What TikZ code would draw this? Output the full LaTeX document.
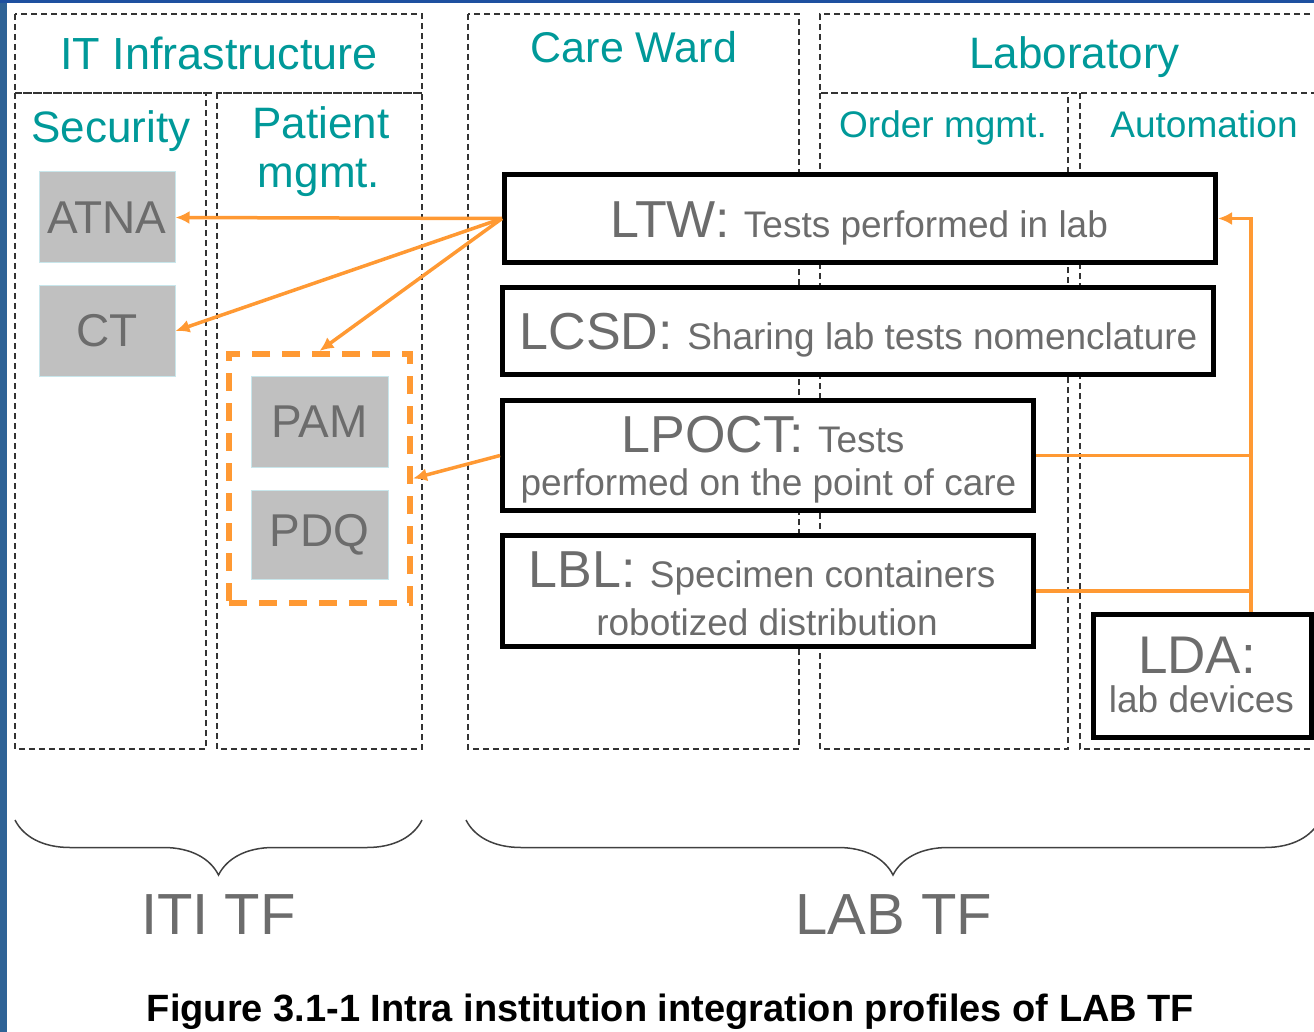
\documentclass[tikz,border=0pt]{standalone}
\usepackage{fontspec}
\setmainfont{Liberation Sans}
\usetikzlibrary{arrows.meta,decorations.pathreplacing}
\definecolor{hdrteal}{RGB}{0,153,153}
\definecolor{txtgray}{RGB}{108,108,108}
\definecolor{boxgray}{RGB}{192,192,192}
\definecolor{boxedge}{RGB}{200,230,235}
\definecolor{linkorange}{RGB}{255,153,51}
\definecolor{frameblue}{RGB}{47,99,150}
\definecolor{topblue}{RGB}{30,80,160}
\newcommand{\setpx}[1]{\fontsize{#1}{#1}\selectfont}
\tikzset{
  col/.style={draw=black!80, line width=1.3pt, dash pattern=on 6pt off 4pt},
  hdr/.style={anchor=base, text=hdrteal, inner sep=0pt},
  lbl/.style={anchor=base, text=txtgray, inner sep=0pt},
  iti/.style={fill=boxgray, draw=boxedge, line width=1pt, text=txtgray, font=\setpx{46}, inner sep=0pt},
  prof/.style={draw=black, line width=5pt, fill=white, inner sep=0pt},
  link/.style={draw=linkorange, line width=3.5pt, -{Latex[length=14pt,width=13pt]}},
  wire/.style={draw=linkorange, line width=3.5pt},
  tfbrace/.style={draw=black!75, line width=1.5pt, decorate, decoration={brace, mirror, amplitude=55pt}},
}
\begin{document}
\begin{tikzpicture}[x=1pt, y=-1pt]
  \useasboundingbox (0,0) rectangle (1314,1032);
  \fill[frameblue] (0,0) rectangle (7,1032);
  \fill[topblue] (0,0) rectangle (1314,3);

  % domains and columns
  \draw[col] (15,14) rectangle (422,93);
  \draw[col] (15,93) rectangle (206,749);
  \draw[col] (217,93) rectangle (422,749);
  \draw[col] (468,14) rectangle (799,749);
  \draw[col] (1320,14) -- (820,14) -- (820,93) -- (1320,93);
  \draw[col] (820,93) rectangle (1068,749);
  \draw[col] (1320,749) -- (1080,749) -- (1080,93);

  \node[hdr, font=\setpx{45}] (itinfra) at (219,70) {IT Infrastructure};
  \node[hdr, font=\setpx{44}] (security) at (111,143) {Security};
  \node[hdr, font=\setpx{44}] (patient) at (321,139) {Patient};
  \node[hdr, font=\setpx{44}] (patmgmt) at (319,188) {mgmt.};
  \node[hdr, font=\setpx{43}] (careward) at (634,63) {Care Ward};
  \node[hdr, font=\setpx{44}] (laboratory) at (1074.5,69) {Laboratory};
  \node[hdr, font=\setpx{37}] (ordermgmt) at (943,138) {Order mgmt.};
  \node[hdr, font=\setpx{37}] (automation) at (1204,138) {Automation};

  % ITI profiles
  \node[iti, minimum width=136pt, minimum height=91pt] (atna) at (107,217.5) {ATNA};
  \node[iti, minimum width=136pt, minimum height=90pt] (ct) at (107,331) {CT};
  \node[draw=linkorange, line width=6pt, dash pattern=on 18pt off 12pt,
        minimum width=181pt, minimum height=249pt, inner sep=0pt] (grp) at (319.5,478.5) {};
  \node[iti, minimum width=137pt, minimum height=91pt] (pam) at (319.5,421.5) {PAM};
  \node[iti, minimum width=137pt, minimum height=89pt] (pdq) at (319.5,534.5) {PDQ};

  % LAB profiles
  \node[prof, minimum width=711pt, minimum height=88pt] (ltw) at (860,218.5) {};
  \node[prof, minimum width=711pt, minimum height=87pt] (lcsd) at (858,331) {};
  \node[prof, minimum width=531pt, minimum height=110pt] (lpoct) at (768,455.5) {};
  \node[prof, minimum width=531pt, minimum height=111pt] (lbl) at (768,591) {};
  \node[prof, minimum width=218pt, minimum height=123pt] (lda) at (1202.5,676) {};

  \node[lbl] (ltwtxt) at (859,238) {\setpx{52}LTW: \setpx{37}Tests performed in lab};
  \node[lbl] (lcsdtxt) at (858.5,349) {\setpx{52}LCSD: \setpx{37}Sharing lab tests nomenclature};
  \node[lbl] (lpocttxt) at (763,452) {\setpx{52}LPOCT: \setpx{37}Tests};
  \node[lbl, font=\setpx{37}] (lpocttxtb) at (768.5,495) {performed on the point of care};
  \node[lbl] (lbltxt) at (762,587) {\setpx{52}LBL: \setpx{37}Specimen containers};
  \node[lbl, font=\setpx{37}] (lbltxtb) at (767,635) {robotized distribution};
  \node[lbl, font=\setpx{53}] (ldatxt) at (1197,673) {LDA:};
  \node[lbl, font=\setpx{37}] (ldatxtb) at (1201.5,712) {lab devices};

  % links
  \coordinate (bus) at (1251,0);
  \draw[link] (ltw.west) -- (atna.east);
  \draw[link] (ltw.west) -- (ct.east);
  \draw[link] (ltw.west) -- (grp.north);
  \draw[link] (lpoct.west) -- (grp.east);
  \draw[link] (lda.north -| bus) |- (ltw.east);
  \draw[wire] (lpoct.east) -- (lpoct.east -| bus);
  \draw[wire] (lbl.east) -- (lbl.east -| bus);

  % technical frameworks
  \draw[tfbrace] (15,820) -- (422,820);
  \draw[tfbrace] (466,820) -- (1320,820);
  \node[lbl, font=\setpx{58}] (ititf) at (218.5,934) {ITI TF};
  \node[lbl, font=\setpx{58}] (labtf) at (894,934) {LAB TF};

  \node[anchor=base, inner sep=0pt, font=\bfseries\setpx{38}] (caption) at (670.5,1021)
    {Figure 3.1-1 Intra institution integration profiles of LAB TF};
\end{tikzpicture}
\end{document}
